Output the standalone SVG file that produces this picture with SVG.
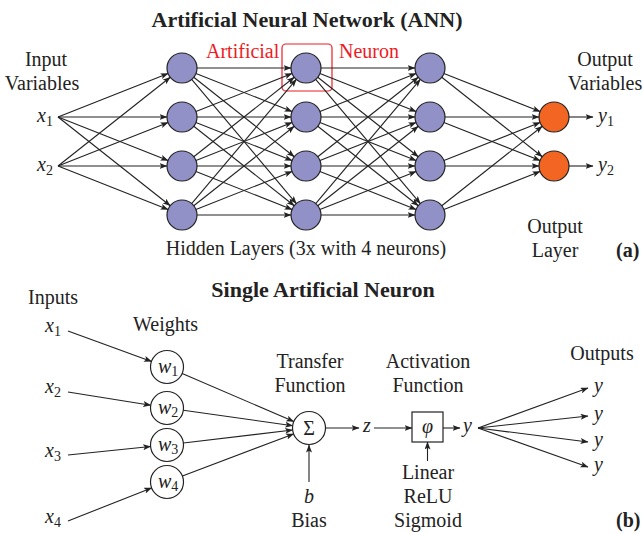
<svg xmlns="http://www.w3.org/2000/svg" width="643" height="534" viewBox="0 0 643 534">
<style>
text{font-family:"Liberation Serif","Times New Roman",serif;font-size:20px;fill:#222}
.t{font-weight:bold;font-size:22px}
.b{font-weight:bold}
.m{text-anchor:middle}
.i{font-style:italic}
.red{fill:#ed1c24}
.sub{font-size:14px;font-style:normal}
.hid{fill:#9191c8;stroke:#222;stroke-width:1.2}
.out{fill:#f26522;stroke:#222;stroke-width:1.2}
.wn{fill:#fff;stroke:#222;stroke-width:1.2}
#conn line{stroke:#222;stroke-width:1.1;marker-end:url(#ah)}
</style>
<defs>
<marker id="ah" markerUnits="userSpaceOnUse" markerWidth="8" markerHeight="6" viewBox="0 0 8 6" refX="7.5" refY="3" orient="auto">
<path d="M0,0 L8,3 L0,6 L1.8,3 z" fill="#222"/>
</marker>
</defs>
<rect width="643" height="534" fill="#fff"/>

<!-- (a) texts -->
<text class="t m" x="307" y="27">Artificial Neural Network (ANN)</text>
<text class="m" x="46" y="66">Input</text>
<text class="m" x="42" y="90">Variables</text>
<text class="i" x="37" y="122">x<tspan class="sub" dy="4">1</tspan></text>
<text class="i" x="37" y="171">x<tspan class="sub" dy="4">2</tspan></text>
<text class="red" x="206" y="58">Artificial</text>
<text class="red" x="339" y="58">Neuron</text>
<rect x="282" y="44" width="50" height="47" rx="4" fill="none" stroke="#ed1c24" stroke-width="1.2"/>
<text class="m" x="605" y="66">Output</text>
<text class="m" x="605" y="90">Variables</text>
<text class="i" x="598" y="122">y<tspan class="sub" dy="4">1</tspan></text>
<text class="i" x="598" y="171">y<tspan class="sub" dy="4">2</tspan></text>
<text class="m" x="306" y="255">Hidden Layers (3x with 4 neurons)</text>
<text class="m" x="555" y="233">Output</text>
<text class="m" x="555" y="257">Layer</text>
<text class="b" x="616" y="257">(a)</text>

<!-- (b) texts -->
<text class="t m" x="323" y="297">Single Artificial Neuron</text>
<text x="28" y="304">Inputs</text>
<text x="133" y="331">Weights</text>
<text class="i" x="45" y="332">x<tspan class="sub" dy="4">1</tspan></text>
<text class="i" x="45" y="393">x<tspan class="sub" dy="4">2</tspan></text>
<text class="i" x="45" y="457">x<tspan class="sub" dy="4">3</tspan></text>
<text class="i" x="45" y="523">x<tspan class="sub" dy="4">4</tspan></text>
<text class="m" x="310" y="368">Transfer</text>
<text class="m" x="310" y="392">Function</text>
<text class="m" x="428" y="368">Activation</text>
<text class="m" x="428" y="392">Function</text>
<text class="m" x="602" y="360">Outputs</text>
<text class="i m" x="309" y="503">b</text>
<text class="m" x="309" y="527">Bias</text>
<text class="i" x="363" y="432">z</text>
<text class="i" x="463" y="432">y</text>
<text class="m" x="428" y="479">Linear</text>
<text class="m" x="428" y="503">ReLU</text>
<text class="m" x="428" y="527">Sigmoid</text>
<text class="i" x="594" y="392">y</text>
<text class="i" x="594" y="420">y</text>
<text class="i" x="594" y="446">y</text>
<text class="i" x="594" y="471">y</text>
<text class="b" x="616" y="527">(b)</text>

<g id="conn">
<!-- inputs to L1 -->
<line x1="58" y1="117" x2="168.05" y2="73.51"/>
<line x1="58" y1="117" x2="167" y2="117"/>
<line x1="58" y1="117" x2="168.05" y2="160.49"/>
<line x1="58" y1="117" x2="170.23" y2="205.7"/>
<line x1="58" y1="166" x2="170.23" y2="77.3"/>
<line x1="58" y1="166" x2="168.05" y2="122.51"/>
<line x1="58" y1="166" x2="167" y2="166"/>
<line x1="58" y1="166" x2="168.05" y2="209.49"/>
<!-- L1 to L2 -->
<line x1="197" y1="68" x2="291" y2="68"/>
<line x1="195.95" y1="73.51" x2="292.05" y2="111.49"/>
<line x1="193.77" y1="77.3" x2="294.23" y2="156.7"/>
<line x1="191.67" y1="79.47" x2="296.33" y2="203.53"/>
<line x1="195.95" y1="111.49" x2="292.05" y2="73.51"/>
<line x1="197" y1="117" x2="291" y2="117"/>
<line x1="195.95" y1="122.51" x2="292.05" y2="160.49"/>
<line x1="193.77" y1="126.3" x2="294.23" y2="205.7"/>
<line x1="193.77" y1="156.7" x2="294.23" y2="77.3"/>
<line x1="195.95" y1="160.49" x2="292.05" y2="122.51"/>
<line x1="197" y1="166" x2="291" y2="166"/>
<line x1="195.95" y1="171.51" x2="292.05" y2="209.49"/>
<line x1="191.67" y1="203.53" x2="296.33" y2="79.47"/>
<line x1="193.77" y1="205.7" x2="294.23" y2="126.3"/>
<line x1="195.95" y1="209.49" x2="292.05" y2="171.51"/>
<line x1="197" y1="215" x2="291" y2="215"/>
<!-- L2 to L3 -->
<line x1="321" y1="68" x2="415" y2="68"/>
<line x1="319.95" y1="73.51" x2="416.05" y2="111.49"/>
<line x1="317.77" y1="77.3" x2="418.23" y2="156.7"/>
<line x1="315.67" y1="79.47" x2="420.33" y2="203.53"/>
<line x1="319.95" y1="111.49" x2="416.05" y2="73.51"/>
<line x1="321" y1="117" x2="415" y2="117"/>
<line x1="319.95" y1="122.51" x2="416.05" y2="160.49"/>
<line x1="317.77" y1="126.3" x2="418.23" y2="205.7"/>
<line x1="317.77" y1="156.7" x2="418.23" y2="77.3"/>
<line x1="319.95" y1="160.49" x2="416.05" y2="122.51"/>
<line x1="321" y1="166" x2="415" y2="166"/>
<line x1="319.95" y1="171.51" x2="416.05" y2="209.49"/>
<line x1="315.67" y1="203.53" x2="420.33" y2="79.47"/>
<line x1="317.77" y1="205.7" x2="418.23" y2="126.3"/>
<line x1="319.95" y1="209.49" x2="416.05" y2="171.51"/>
<line x1="321" y1="215" x2="415" y2="215"/>
<!-- L3 to output -->
<line x1="443.95" y1="73.51" x2="540.05" y2="111.49"/>
<line x1="441.77" y1="77.3" x2="542.23" y2="156.7"/>
<line x1="445" y1="117" x2="539" y2="117"/>
<line x1="443.95" y1="122.51" x2="540.05" y2="160.49"/>
<line x1="443.95" y1="160.49" x2="540.05" y2="122.51"/>
<line x1="445" y1="166" x2="539" y2="166"/>
<line x1="441.77" y1="205.7" x2="542.23" y2="126.3"/>
<line x1="443.95" y1="209.49" x2="540.05" y2="171.51"/>
<line x1="569" y1="117" x2="593" y2="117"/>
<line x1="569" y1="166" x2="593" y2="166"/>
<!-- (b) -->
<line x1="68" y1="331" x2="151.5" y2="361.4"/>
<line x1="68" y1="392" x2="150.7" y2="405.2"/>
<line x1="68" y1="455" x2="150.6" y2="446.5"/>
<line x1="68" y1="521" x2="151.6" y2="487.9"/>
<line x1="182.2" y1="373.5" x2="293.8" y2="421.5"/>
<line x1="183.3" y1="410.3" x2="292.7" y2="425.7"/>
<line x1="183.4" y1="443" x2="292.6" y2="430"/>
<line x1="182.4" y1="476.1" x2="293.6" y2="433.9"/>
<line x1="309" y1="482" x2="309" y2="445"/>
<line x1="325.5" y1="428" x2="359" y2="428"/>
<line x1="374" y1="428" x2="412" y2="428"/>
<line x1="443" y1="428" x2="460" y2="428"/>
<line x1="427.5" y1="461" x2="427.5" y2="442"/>
<line x1="478" y1="428" x2="588" y2="388"/>
<line x1="478" y1="428" x2="588" y2="416"/>
<line x1="478" y1="428" x2="588" y2="442"/>
<line x1="478" y1="428" x2="588" y2="467"/>
</g>

<g id="h1a"><circle class="hid" cx="182" cy="68" r="15"/></g>
<g id="h1b"><circle class="hid" cx="182" cy="117" r="15"/></g>
<g id="h1c"><circle class="hid" cx="182" cy="166" r="15"/></g>
<g id="h1d"><circle class="hid" cx="182" cy="215" r="15"/></g>
<g id="h2a"><circle class="hid" cx="306" cy="68" r="15"/></g>
<g id="h2b"><circle class="hid" cx="306" cy="117" r="15"/></g>
<g id="h2c"><circle class="hid" cx="306" cy="166" r="15"/></g>
<g id="h2d"><circle class="hid" cx="306" cy="215" r="15"/></g>
<g id="h3a"><circle class="hid" cx="430" cy="68" r="15"/></g>
<g id="h3b"><circle class="hid" cx="430" cy="117" r="15"/></g>
<g id="h3c"><circle class="hid" cx="430" cy="166" r="15"/></g>
<g id="h3d"><circle class="hid" cx="430" cy="215" r="15"/></g>
<g id="o1"><circle class="out" cx="554" cy="117" r="15"/></g>
<g id="o2"><circle class="out" cx="554" cy="166" r="15"/></g>

<g id="w1"><circle class="wn" cx="167" cy="367" r="16.5"/><text class="i" x="158" y="373">w<tspan class="sub" dy="3">1</tspan></text></g>
<g id="w2"><circle class="wn" cx="167" cy="408" r="16.5"/><text class="i" x="158" y="414">w<tspan class="sub" dy="3">2</tspan></text></g>
<g id="w3"><circle class="wn" cx="167" cy="445" r="16.5"/><text class="i" x="158" y="451">w<tspan class="sub" dy="3">3</tspan></text></g>
<g id="w4"><circle class="wn" cx="167" cy="482" r="16.5"/><text class="i" x="158" y="488">w<tspan class="sub" dy="3">4</tspan></text></g>
<g id="sum"><circle class="wn" cx="309" cy="428" r="16.5"/><text class="m" x="309" y="435">Σ</text></g>
<g id="act"><rect x="412" y="412" width="31" height="30" fill="#fff" stroke="#222" stroke-width="1.2"/><text class="i m" x="427.5" y="433">φ</text></g>
</svg>
